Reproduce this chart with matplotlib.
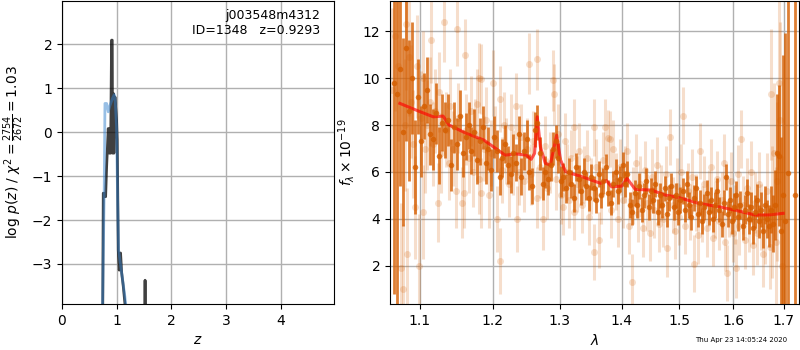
import matplotlib
matplotlib.use("Agg")
import matplotlib.pyplot as plt
import numpy as np

# ---------------- left panel: p(z) ----------------
pz_fine_z = [0.742, 0.754, 0.797, 0.815, 0.845, 0.864, 0.876, 0.888, 0.906, 0.918,
             0.924, 0.937, 0.949, 0.967, 0.997, 1.009, 1.028, 1.046, 1.070, 1.090,
             1.119, 1.150, 1.170, 1.500, 1.515, 1.518, 1.521, 1.536]
pz_fine_logp = [-4.6, -1.39, -1.47, -0.79, 0.08, -0.48, 0.08, -0.48, 2.09, 2.09,
                -0.48, 0.88, -0.48, 0.80, 0.27, -0.18, -2.68, -3.14, -2.75, -3.2,
                -3.5, -3.9, -4.6, -8.0, -5.0, -3.37, -5.0, -8.0]

pz_coarse_z = [0.742, 0.772, 0.785, 0.815, 0.845, 0.876, 0.924, 0.955, 0.973, 0.997,
               1.016, 1.034, 1.058, 1.100, 1.150, 1.180]
pz_coarse_logp = [-3.9, -1.24, 0.65, 0.65, 0.46, 0.60, 0.77, 0.85, 0.70, 0.12,
                  -1.55, -2.68, -2.91, -3.29, -3.75, -4.1]

# ---------------- right panel: spectrum ----------------
dark_wave = [1.066, 1.070, 1.074, 1.078, 1.082, 1.086, 1.090, 1.094, 1.098, 1.102,
             1.106, 1.110, 1.114, 1.118, 1.122, 1.126, 1.130, 1.134, 1.138, 1.142,
             1.146, 1.150, 1.154, 1.158, 1.162, 1.166, 1.170, 1.174, 1.178, 1.182,
             1.186, 1.190, 1.194, 1.198, 1.202, 1.206, 1.210, 1.214, 1.218, 1.222,
             1.226, 1.230, 1.234, 1.238, 1.242, 1.246, 1.250, 1.254, 1.258, 1.262,
             1.266, 1.270, 1.274, 1.278, 1.282, 1.286, 1.290, 1.294, 1.298, 1.302,
             1.306, 1.310, 1.314, 1.318, 1.322, 1.326, 1.330, 1.334, 1.338, 1.342,
             1.346, 1.350, 1.354, 1.358, 1.362, 1.366, 1.370, 1.374, 1.378, 1.382,
             1.386, 1.390, 1.394, 1.398, 1.402, 1.406, 1.410, 1.414, 1.418, 1.422,
             1.426, 1.430, 1.434, 1.438, 1.442, 1.446, 1.450, 1.454, 1.458, 1.462,
             1.466, 1.470, 1.474, 1.478, 1.482, 1.486, 1.490, 1.494, 1.498, 1.502,
             1.506, 1.510, 1.514, 1.518, 1.522, 1.526, 1.530, 1.534, 1.538, 1.542,
             1.546, 1.550, 1.554, 1.558, 1.562, 1.566, 1.570, 1.574, 1.578, 1.582,
             1.586, 1.590, 1.594, 1.598, 1.602, 1.606, 1.610, 1.614, 1.618, 1.622,
             1.626, 1.630, 1.634, 1.638, 1.642, 1.646, 1.650, 1.654, 1.658, 1.662,
             1.666, 1.670, 1.674, 1.678, 1.682, 1.686, 1.690, 1.694, 1.698, 1.702,
             1.709, 1.722]
dark_flux = [9.8, 9.3, 10.4, 7.7, 11.3, 8.6, 10.0, 6.2, 9.2, 7.3,
             8.8, 9.5, 7.6, 7.4, 8.5, 6.7, 8.1, 7.8, 8.2, 6.3,
             7.9, 7.2, 8.4, 6.8, 7.5, 8.0, 6.9, 7.7, 6.5, 7.3,
             7.9, 6.4, 7.0, 6.1, 7.5, 6.9, 5.8, 6.6, 7.2, 6.3,
             5.9, 6.8, 6.4, 7.6, 5.8, 6.9, 7.4, 6.0, 5.4, 7.8,
             8.1, 6.8, 5.5, 6.0, 5.7, 6.3, 7.0, 7.3, 6.6, 5.6,
             5.8, 5.3, 6.0, 5.5, 4.9, 6.2, 5.7, 5.2, 6.0, 5.4,
             4.9, 5.8, 5.3, 4.8, 5.9, 5.0, 5.6, 6.2, 5.1, 4.7,
             5.5, 6.0, 5.2, 5.7, 6.3, 5.5, 5.9, 4.6, 4.3, 5.1,
             4.6, 5.4, 4.4, 5.0, 5.6, 4.5, 5.2, 4.8, 5.5, 4.3,
             5.0, 4.6, 5.3, 4.2, 4.9, 5.4, 4.5, 5.0, 4.3, 4.8,
             5.2, 4.4, 5.5, 4.6, 4.1, 4.9, 5.3, 4.2, 4.7, 3.9,
             4.5, 5.1, 4.3, 4.8, 4.0, 4.6, 5.2, 4.4, 3.8, 4.7,
             5.8, 4.2, 4.8, 3.9, 4.5, 5.0, 4.1, 4.6, 3.7, 4.4,
             5.1, 4.0, 4.5, 3.6, 4.3, 4.8, 3.9, 4.4, 3.5, 4.6,
             4.0, 3.7, 4.4, 3.8, 4.6, 6.8, 6.7, 3.5, 5.0, 3.9,
             5.96, 5.0]
dark_err = [9.0, 9.0, 5.0, 4.0, 4.0, 3.0, 2.4, 2.0, 1.6, 1.5,
            1.4, 1.4, 1.3, 1.3, 1.3, 1.2, 1.2, 1.2, 1.1, 1.1,
            1.1, 1.1, 1.1, 1.0, 1.0, 1.0, 1.0, 1.0, 1.0, 1.0,
            0.9, 0.9, 0.9, 0.9, 0.9, 0.9, 0.8, 0.8, 0.8, 0.8,
            0.8, 0.8, 0.8, 0.8, 0.8, 0.8, 0.8, 0.75, 0.75, 0.75,
            0.75, 0.7, 0.7, 0.7, 0.7, 0.7, 0.7, 0.7, 0.65, 0.65,
            0.6, 0.6, 0.6, 0.6, 0.6, 0.6, 0.6, 0.6, 0.6, 0.6,
            0.55, 0.55, 0.55, 0.55, 0.55, 0.55, 0.55, 0.55, 0.55, 0.55,
            0.55, 0.55, 0.55, 0.55, 0.55, 0.55, 0.55, 0.55, 0.55, 0.55,
            0.55, 0.55, 0.55, 0.55, 0.55, 0.55, 0.55, 0.55, 0.55, 0.55,
            0.55, 0.55, 0.55, 0.55, 0.55, 0.55, 0.55, 0.55, 0.55, 0.55,
            0.55, 0.55, 0.55, 0.55, 0.55, 0.55, 0.55, 0.55, 0.55, 0.55,
            0.55, 0.55, 0.55, 0.55, 0.55, 0.55, 0.55, 0.55, 0.55, 0.55,
            0.55, 0.55, 0.55, 0.55, 0.6, 0.6, 0.6, 0.6, 0.6, 0.6,
            0.6, 0.65, 0.65, 0.65, 0.7, 0.7, 0.7, 0.75, 0.75, 0.8,
            0.8, 0.9, 1.0, 1.2, 1.5, 2.5, 3.0, 4.0, 6.0, 8.0,
            9.0, 9.0]

light_wave = [1.064, 1.068, 1.072, 1.076, 1.078, 1.080, 1.082, 1.0835, 1.086, 1.088,
              1.0905, 1.0935, 1.096, 1.099, 1.101, 1.104, 1.1045, 1.107, 1.110, 1.113,
              1.115, 1.117, 1.120, 1.1238, 1.126, 1.128, 1.1326, 1.135, 1.139, 1.141,
              1.144, 1.149, 1.150, 1.152, 1.157, 1.160, 1.1605, 1.163, 1.166, 1.169,
              1.172, 1.175, 1.178, 1.180, 1.1805, 1.183, 1.1835, 1.187, 1.190, 1.195,
              1.197, 1.200, 1.203, 1.2056, 1.2099, 1.210, 1.213, 1.216, 1.220, 1.223,
              1.227, 1.230, 1.234, 1.2348, 1.238, 1.242, 1.246, 1.250, 1.254, 1.257,
              1.260, 1.265, 1.266, 1.270, 1.274, 1.277, 1.281, 1.285, 1.2895, 1.291,
              1.294, 1.298, 1.302, 1.306, 1.3077, 1.311, 1.315, 1.318, 1.322, 1.323,
              1.327, 1.331, 1.335, 1.339, 1.343, 1.347, 1.350, 1.354, 1.3545, 1.358,
              1.363, 1.366, 1.370, 1.3726, 1.377, 1.380, 1.383, 1.386, 1.390, 1.394,
              1.398, 1.402, 1.406, 1.409, 1.413, 1.4175, 1.420, 1.424, 1.428, 1.432,
              1.436, 1.440, 1.444, 1.448, 1.452, 1.456, 1.460, 1.464, 1.468, 1.472,
              1.476, 1.479, 1.484, 1.488, 1.492, 1.496, 1.500, 1.504, 1.507, 1.511,
              1.515, 1.519, 1.523, 1.526, 1.530, 1.534, 1.538, 1.542, 1.546, 1.550,
              1.554, 1.558, 1.562, 1.566, 1.570, 1.574, 1.578, 1.582, 1.585, 1.588,
              1.592, 1.596, 1.600, 1.603, 1.606, 1.609, 1.612, 1.615, 1.619, 1.623,
              1.627, 1.631, 1.635, 1.639, 1.643, 1.647, 1.651, 1.655, 1.659, 1.663,
              1.667, 1.672, 1.674, 1.677, 1.681, 1.684, 1.687, 1.690, 1.693, 1.696]
light_flux = [9.5, 11.8, 10.5, 1.9, 1.0, 8.0, 12.3, 2.5, 10.9, 9.0,
              7.2, 4.5, 10.5, 2.0, 8.3, 4.3, 10.0, 7.0, 8.0, 9.0,
              11.6, 7.2, 8.6, 4.7, 9.4, 6.8, 12.4, 7.8, 6.4, 8.8,
              7.0, 5.2, 12.1, 8.3, 4.7, 5.1, 11.0, 7.8, 6.6, 8.6,
              6.0, 7.6, 8.9, 10.0, 5.7, 9.95, 5.1, 7.0, 8.2, 5.0,
              6.8, 9.8, 7.4, 4.0, 2.2, 9.1, 6.1, 8.0, 6.9, 5.5,
              7.9, 6.4, 8.8, 4.0, 6.0, 7.5, 5.6, 7.0, 10.6, 5.9,
              7.3, 4.9, 10.8, 6.2, 4.0, 7.1, 5.3, 6.4, 9.9, 9.3,
              5.7, 7.6, 5.0, 4.5, 7.3, 6.0, 4.8, 6.6, 4.3, 7.9,
              5.5, 6.9, 4.6, 5.9, 6.6, 4.1, 5.4, 2.6, 7.9, 6.2,
              3.1, 5.0, 6.5, 7.9, 7.45, 7.4, 4.4, 7.0, 5.6, 4.0,
              6.2, 4.8, 5.9, 6.9, 3.7, 1.3, 5.0, 6.4, 4.2, 5.5,
              3.6, 6.1, 4.7, 3.4, 5.8, 4.4, 6.3, 3.8, 5.1, 4.0,
              5.9, 2.75, 7.5, 4.6, 3.5, 5.4, 4.1, 6.0, 8.4, 3.7,
              5.2, 4.3, 5.8, 2.1, 4.7, 3.3, 6.9, 4.2, 5.5, 3.6,
              4.9, 6.2, 3.2, 4.4, 5.7, 3.9, 4.8, 6.4, 3.0, 1.7,
              4.5, 5.6, 3.4, 4.2, 1.9, 5.9, 3.7, 7.4, 4.6, 3.1,
              5.3, 3.9, 6.0, 2.9, 4.7, 3.4, 5.5, 4.1, 2.5, 3.6,
              5.2, 2.8, 9.3, 4.3, 6.8, 3.0, 5.6, 9.8, 8.2, 2.0]
light_err = [3.5, 3.2, 3.2, 2.8, 2.8, 2.8, 2.8, 2.8, 2.5, 2.4,
             2.3, 2.2, 2.2, 2.2, 2.0, 2.0, 2.0, 1.9, 1.9, 1.9,
             1.8, 1.8, 1.8, 1.7, 1.7, 1.7, 1.7, 1.6, 1.6, 1.6,
             1.6, 1.6, 1.6, 1.5, 1.5, 1.5, 1.5, 1.5, 1.5, 1.5,
             1.5, 1.5, 1.5, 1.5, 1.5, 1.5, 1.5, 1.4, 1.4, 1.4,
             1.4, 1.4, 1.4, 1.4, 1.4, 1.4, 1.4, 1.4, 1.4, 1.4,
             1.4, 1.4, 1.4, 1.4, 1.4, 1.4, 1.3, 1.3, 1.3, 1.3,
             1.3, 1.3, 1.3, 1.3, 1.3, 1.3, 1.3, 1.3, 1.3, 1.3,
             1.3, 1.3, 1.2, 1.2, 1.2, 1.2, 1.2, 1.2, 1.2, 1.2,
             1.2, 1.2, 1.2, 1.2, 1.2, 1.2, 1.2, 1.2, 1.2, 1.2,
             1.2, 1.2, 1.2, 1.2, 1.2, 1.2, 1.2, 1.2, 1.2, 1.2,
             1.2, 1.2, 1.2, 1.2, 1.2, 1.2, 1.2, 1.2, 1.2, 1.2,
             1.2, 1.2, 1.2, 1.2, 1.2, 1.2, 1.2, 1.2, 1.2, 1.2,
             1.2, 1.2, 1.2, 1.2, 1.2, 1.2, 1.2, 1.2, 1.2, 1.2,
             1.2, 1.2, 1.2, 1.2, 1.2, 1.2, 1.2, 1.2, 1.2, 1.2,
             1.2, 1.2, 1.2, 1.2, 1.2, 1.2, 1.2, 1.2, 1.2, 1.2,
             1.25, 1.25, 1.25, 1.25, 1.25, 1.25, 1.25, 1.25, 1.25, 1.25,
             1.3, 1.3, 1.3, 1.3, 1.3, 1.35, 1.35, 1.4, 1.4, 1.5,
             1.6, 1.8, 2.8, 2.8, 3.0, 3.2, 3.4, 3.7, 4.2, 4.7]

model_wave = [1.074, 1.100, 1.1176, 1.131, 1.139, 1.1625, 1.1874, 1.218, 1.234, 1.249,
              1.2566, 1.2617, 1.2658, 1.2705, 1.278, 1.2856, 1.2955, 1.3016, 1.3094, 1.3355,
              1.365, 1.375, 1.3835, 1.4006, 1.4091, 1.4231, 1.451, 1.4747, 1.4981, 1.5344,
              1.5778, 1.6159, 1.6421, 1.6685, 1.6985]
model_flux = [8.92, 8.57, 8.35, 8.38, 8.0, 7.65, 7.36, 6.72, 6.77, 6.72,
              6.54, 6.79, 8.35, 7.08, 6.37, 6.30, 7.57, 6.51, 6.01, 5.80,
              5.52, 5.63, 5.37, 5.40, 5.73, 5.26, 5.23, 5.02, 4.92, 4.67,
              4.50, 4.31, 4.17, 4.17, 4.24]

wave_ticks = [1.1, 1.2, 1.3, 1.4, 1.5, 1.6, 1.7]
wave_tick_labels = ["1.1", "1.2", "1.3", "1.4", "1.5", "1.6", "1.7"]

g141 = (0.8352941176470589, 0.3686274509803922, 0.0)

fig = plt.figure(figsize=(8, 3.5), dpi=100)
ax1 = fig.add_axes([62 / 800, 46 / 350, 272 / 800, 303 / 350])
ax2 = fig.add_axes([390 / 800, 46 / 350, 409 / 800, 303 / 350])

# left panel
ax1.plot(pz_fine_z, pz_fine_logp, color='k', alpha=0.75, lw=2)
ax1.plot(pz_coarse_z, pz_coarse_logp, color=(0.2, 0.5, 0.8), alpha=0.5, lw=2)
ax1.set_xlim(0, 4.97)
ax1.set_ylim(-3.91, 2.98)
ax1.set_xticks([0, 1, 2, 3, 4])
ax1.set_yticks([-3, -2, -1, 0, 1, 2])
ax1.grid(True, color='#b0b0b0', lw=1)
ax1.set_axisbelow(True)
ax1.set_xlabel(r'$z$', fontsize=10)
ax1.set_ylabel(r'log $p(z)$ / $\chi^2=\frac{2754}{2672}=1.03$', fontsize=10)
ax1.text(0.95, 0.975, 'j003548m4312\nID=1348   z=0.9293', transform=ax1.transAxes,
         ha='right', va='top', fontsize=9)

# right panel
ax2.errorbar(light_wave, light_flux, yerr=light_err, color=g141, alpha=0.2,
             marker='o', ms=5, linestyle='None', elinewidth=2.2, mec='none')
ax2.errorbar(dark_wave, dark_flux, yerr=dark_err, color=g141, alpha=0.8,
             marker='o', ms=4, linestyle='None', elinewidth=2.0, mec='none')
ax2.plot(model_wave, model_flux, color='r', alpha=0.65, lw=2.2)
ax2.set_xscale('log')
ax2.set_xlim(1.0614, 1.731)
ax2.set_ylim(0.38, 13.28)
ax2.set_xticks(wave_ticks)
ax2.set_xticklabels(wave_tick_labels)
ax2.minorticks_off()
ax2.set_yticks([2, 4, 6, 8, 10, 12])
ax2.grid(True, color='#b0b0b0', lw=1)
ax2.set_axisbelow(True)
ax2.set_xlabel(r'$\lambda$', fontsize=10)
ax2.set_ylabel(r'$f_\lambda \times 10^{-19}$', fontsize=10)

fig.text(0.984, 0.029, 'Thu Apr 23 14:05:24 2020', ha='right', va='center', fontsize=5)

fig.savefig('out.png', dpi=100)
